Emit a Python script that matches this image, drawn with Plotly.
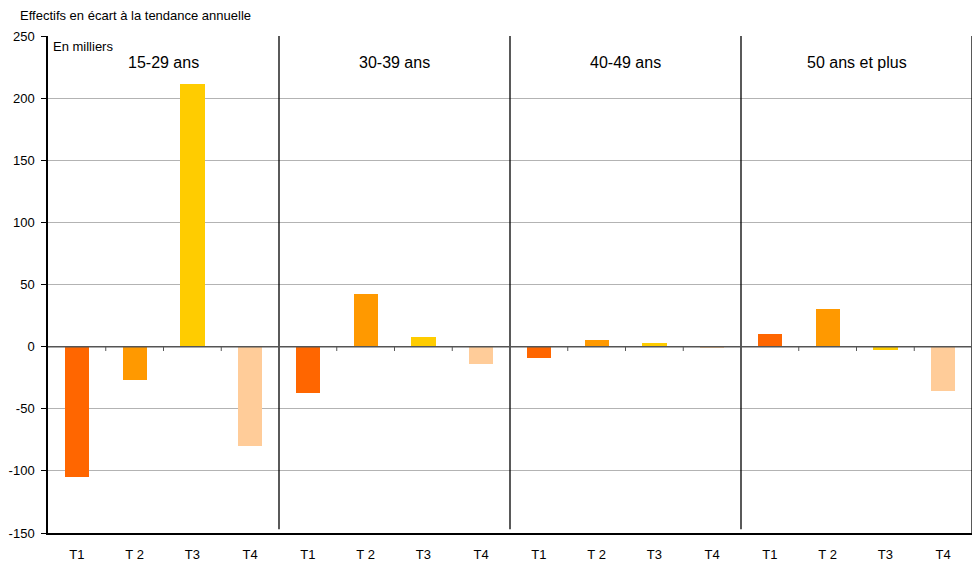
import plotly.graph_objects as go

# Age groups and quarters
age_groups = ["15-29 ans", "30-39 ans", "40-49 ans", "50 ans et plus"]
quarters = ["T1", "T 2", "T3", "T4"]
quarter_colors = ["#FF6600", "#FF9900", "#FFCC00", "#FFCC99"]

# Deviation from annual trend, thousands (one list per age group, T1..T4)
v_15_29 = [-105, -27, 211, -80]
v_30_39 = [-37, 42, 8, -14]
v_40_49 = [-9, 5, 3, -0.5]
v_50_plus = [10, 30, -3, -36]
series = [v_15_29, v_30_39, v_40_49, v_50_plus]

y_ticks = [-150, -100, -50, 0, 50, 100, 150, 200, 250]

n_q = len(quarters)
n_cat = len(age_groups) * n_q
fig = go.Figure()

# One trace per quarter so each keeps its colour across the four panels
for qi, q in enumerate(quarters):
    xs = [gi * n_q + qi + 0.5 for gi in range(len(age_groups))]
    ys = [series[gi][qi] for gi in range(len(age_groups))]
    fig.add_trace(go.Bar(x=xs, y=ys, marker_color=quarter_colors[qi],
                         marker_line_width=0, width=0.42, name=q,
                         showlegend=False))

shapes = []
# Panel separators
for gi in range(1, len(age_groups)):
    shapes.append(dict(type="line", xref="x", yref="y", x0=gi * n_q, x1=gi * n_q,
                       y0=-147, y1=250, line=dict(color="black", width=1.3)))
# Right border
shapes.append(dict(type="line", xref="x", yref="y", x0=n_cat, x1=n_cat,
                   y0=-150, y1=250, line=dict(color="black", width=1.3)))
# Zero line
shapes.append(dict(type="line", xref="x", yref="y", x0=0, x1=n_cat,
                   y0=0, y1=0, line=dict(color="#555555", width=1.5)))
# Small category ticks hanging below the zero line
for k in range(1, n_cat):
    if k % n_q == 0:
        continue
    shapes.append(dict(type="line", xref="x", yref="y", x0=k, x1=k,
                       y0=0, y1=-3.5, line=dict(color="#555555", width=1)))

annotations = [
    dict(text="Effectifs en écart à la tendance annuelle", xref="paper", yref="paper",
         x=-30 / 924, y=(533 - 15) / 497, xanchor="left", yanchor="middle",
         showarrow=False, font=dict(size=13, color="black")),
    dict(text="En milliers", xref="x", yref="y", x=0.06, y=249.5, xanchor="left",
         yanchor="top", showarrow=False, font=dict(size=13, color="black")),
]
for gi, g in enumerate(age_groups):
    annotations.append(dict(text=g, xref="x", yref="y", x=gi * n_q + n_q / 2, y=237,
                            xanchor="center", yanchor="top", showarrow=False,
                            font=dict(size=16, color="black")))

fig.update_layout(
    width=973, height=569,
    margin=dict(l=48, r=1, t=36, b=36),
    plot_bgcolor="white", paper_bgcolor="white",
    font=dict(family="Liberation Sans, Arial, sans-serif", size=12, color="black"),
    bargap=0,
    shapes=shapes,
    annotations=annotations,
    xaxis=dict(range=[0, n_cat],
               tickvals=[i + 0.5 for i in range(n_cat)],
               ticktext=quarters * len(age_groups),
               showgrid=False, zeroline=False, showline=True, linecolor="black",
               linewidth=1.5, ticks="", ticklabelstandoff=9,
               tickfont=dict(size=13)),
    yaxis=dict(range=[-150, 250], tickvals=y_ticks,
               ticktext=[str(t) for t in y_ticks],
               showgrid=True, gridcolor="#b3b3b3", gridwidth=1, zeroline=False,
               showline=True, linecolor="black", linewidth=1.5,
               ticks="outside", ticklen=5, tickcolor="black",
               ticklabelstandoff=4, tickfont=dict(size=13)),
)

fig.write_html("out.html")
